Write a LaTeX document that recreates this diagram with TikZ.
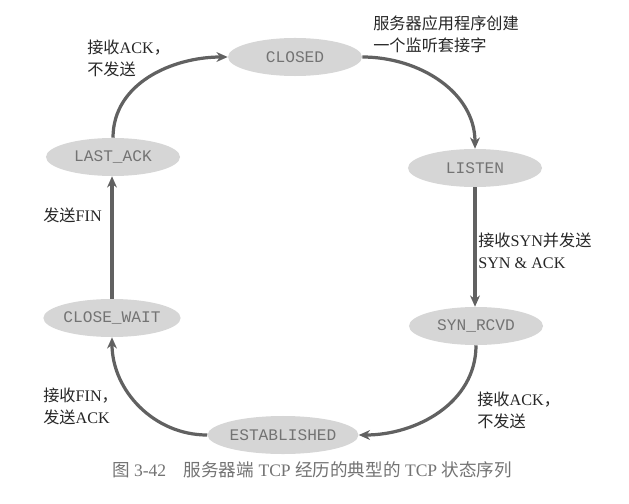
\documentclass[tikz,border=0pt]{standalone}
\usepackage{fontspec}
\setmainfont{Liberation Serif}
\setmonofont{Liberation Mono}
\newfontfamily\cjk{Noto Sans CJK SC}
\newcommand{\zh}[1]{{\cjk #1}}
\usetikzlibrary{shapes.geometric,arrows.meta}

\begin{document}
\begin{tikzpicture}[
    x=0.025cm, y=-0.025cm,
    >={Stealth[length=8pt,width=7pt]},
    state/.style={ellipse, fill=black!16, text=black!55,
        minimum width=3.35cm, minimum height=0.95cm, inner sep=0pt,
        font=\ttfamily\fontsize{11.5}{13}\selectfont},
    trans/.style={->, draw=black!62, line width=2.3pt},
    lbl/.style={align=left, anchor=west, text=black!85, inner sep=0pt,
        font=\fontsize{11.5}{15.5}\selectfont}
]

    % Canvas (pixel units of the reference)
    \useasboundingbox (0,0) rectangle (629,504);

    % States
    \node[state] (closed)      at (295,57)  {CLOSED};
    \node[state] (listen)      at (475,168) {LISTEN};
    \node[state] (synrcvd)     at (476,326) {SYN\_RCVD};
    \node[state] (established) at (283,435) {ESTABLISHED};
    \node[state] (closewait)   at (112,318) {CLOSE\_WAIT};
    \node[state] (lastack)     at (113,157) {LAST\_ACK};

    % Transitions, clockwise from CLOSED
    \draw[trans] (closed.east) to[out=0, in=90] (listen.north);
    \draw[trans] (listen.south) -- (listen.south |- synrcvd.north);
    \draw[trans] (synrcvd.south) to[out=-90, in=0] (established.east);
    \draw[trans] (established.west) to[out=180, in=-90] (closewait.south);
    \draw[trans] (closewait.north) -- (closewait.north |- lastack.south);
    \draw[trans] (lastack.north) to[out=90, in=180] (closed.west);

    % Transition labels
    \node[lbl] (lblopen)  at (373,34)  {\zh{服务器应用程序创建}\\\zh{一个监听套接字}};
    \node[lbl] (lblsyn)   at (478,251) {\zh{接收}SYN\zh{并发送}\\SYN \& ACK};
    \node[lbl] (lblack)   at (477,410) {\zh{接收}ACK\zh{，}\\\zh{不发送}};
    \node[lbl] (lblfinr)  at (43,406)  {\zh{接收}FIN\zh{，}\\\zh{发送}ACK};
    \node[lbl] (lblfins)  at (43,215)  {\zh{发送}FIN};
    \node[lbl] (lblclose) at (87,58)   {\zh{接收}ACK\zh{，}\\\zh{不发送}};

    % Caption
    \node[text=black!55, font=\fontsize{12.5}{14}\selectfont] (caption) at (312,470)
        {\zh{图} 3-42\quad\zh{服务器端} TCP \zh{经历的典型的} TCP \zh{状态序列}};

\end{tikzpicture}
\end{document}
